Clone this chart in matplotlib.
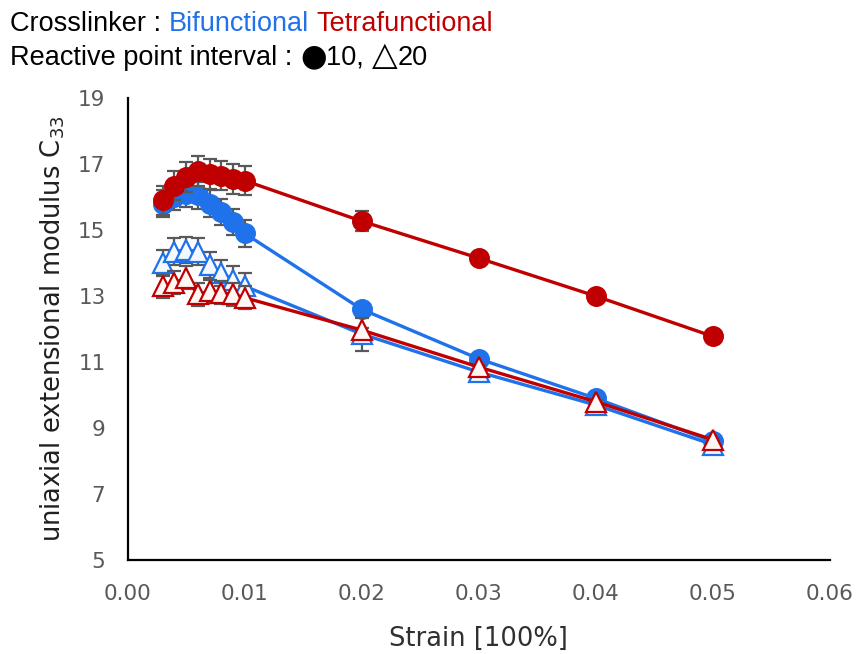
import matplotlib
matplotlib.use('Agg')
import matplotlib.pyplot as plt

plt.rcParams['font.family'] = ['Liberation Sans', 'DejaVu Sans']

BLUE = '#1F72EA'
RED = '#C00000'
ERR_COLOR = '#595959'
TICK_COLOR = '#595959'

# strain values
strain = [0.003, 0.004, 0.005, 0.006, 0.007, 0.008, 0.009, 0.010, 0.02, 0.03, 0.04, 0.05]

# bifunctional, interval 10 (circles)
bi10 = [15.8, 16.0, 16.1, 16.05, 15.8, 15.55, 15.25, 14.9, 12.6, 11.1, 9.9, 8.6]
bi10_err = [0.4, 0.4, 0.4, 0.4, 0.4, 0.4, 0.4, 0.4, 0.2, 0.1, 0.05, 0.05]
# tetrafunctional, interval 10 (circles)
tetra10 = [15.9, 16.35, 16.6, 16.8, 16.7, 16.65, 16.55, 16.5, 15.27, 14.15, 13.0, 11.78]
tetra10_err = [0.45, 0.45, 0.45, 0.45, 0.45, 0.45, 0.45, 0.45, 0.3, 0.05, 0.05, 0.05]
# bifunctional, interval 20 (triangles)
bi20 = [14.0, 14.35, 14.4, 14.35, 13.95, 13.7, 13.5, 13.3, 11.85, 10.7, 9.7, 8.5]
bi20_err = [0.4, 0.4, 0.4, 0.4, 0.4, 0.4, 0.4, 0.4, 0.5, 0.2, 0.05, 0.05]
# tetrafunctional, interval 20 (triangles)
tetra20 = [13.3, 13.4, 13.55, 13.05, 13.15, 13.1, 13.05, 12.95, 11.97, 10.85, 9.8, 8.65]
tetra20_err = [0.35, 0.35, 0.35, 0.35, 0.35, 0.35, 0.35, 0.35, 0.05, 0.05, 0.05, 0.05]

fig = plt.figure(figsize=(8.57, 6.54), dpi=100)
ax = fig.add_axes([0.149, 0.1437, 0.819, 0.7063])

series = [
    (bi10, bi10_err, BLUE, 'o', BLUE, 13.5),
    (tetra10, tetra10_err, RED, 'o', RED, 13.5),
    (bi20, bi20_err, BLUE, '^', '#F4F8FF', 14.5),
    (tetra20, tetra20_err, RED, '^', '#FFF6F6', 14.5),
]
for z, (vals, errs, col, mk, face, ms) in enumerate(series):
    ax.errorbar(strain, vals, yerr=errs, fmt='none', ecolor=ERR_COLOR,
                elinewidth=1.6, capsize=5, capthick=1.6, zorder=2 + 2 * z)
    ax.plot(strain, vals, color=col, linewidth=2.4, marker=mk, markersize=ms,
            markerfacecolor=face, markeredgecolor=col, markeredgewidth=1.6,
            zorder=3 + 2 * z)

ax.set_xlim(0, 0.06)
ax.set_ylim(5, 19)
ax.set_xticks([0.00, 0.01, 0.02, 0.03, 0.04, 0.05, 0.06])
ax.set_xticklabels(['0.00', '0.01', '0.02', '0.03', '0.04', '0.05', '0.06'])
ax.set_yticks([5, 7, 9, 11, 13, 15, 17, 19])
ax.tick_params(length=0, labelsize=15.5, labelcolor=TICK_COLOR)
ax.tick_params(axis='x', pad=17)
ax.tick_params(axis='y', pad=16)
for lab in ax.get_xticklabels() + ax.get_yticklabels():
    lab.set_family('DejaVu Sans')
for s in ['top', 'right']:
    ax.spines[s].set_visible(False)
for s in ['left', 'bottom']:
    ax.spines[s].set_linewidth(1.6)
    ax.spines[s].set_color('black')

ax.set_xlabel('Strain [100%]', fontsize=18.5, color='#303030', family='DejaVu Sans', labelpad=16)
ax.set_ylabel('uniaxial extensional modulus C$_{33}$', fontsize=18.5, color='#202020',
              family='DejaVu Sans', labelpad=8)

# header lines with coloured words
renderer = fig.canvas.get_renderer()


def colored_line(parts, x0, y0, size):
    x = x0
    for txt, col, fam, sz in parts:
        t = fig.text(x, y0, txt, color=col, fontsize=sz or size, ha='left',
                     va='baseline', transform=None, family=fam)
        bb = t.get_window_extent(renderer=renderer)
        x = bb.x1


H = 654
LS = ['Liberation Sans', 'DejaVu Sans']
colored_line([('Crosslinker : ', 'black', LS, None), ('Bifunctional', BLUE, LS, None),
              (' ', 'black', LS, None), ('Tetrafunctional', RED, LS, None)],
             10, H - 31, 19.5)
colored_line([('Reactive point interval : ', 'black', LS, None),
              ('\u25cf', 'black', ['DejaVu Sans'], 22),
              ('10, ', 'black', LS, None),
              ('\u25b3', 'black', ['DejaVu Sans'], 24),
              ('20', 'black', LS, None)],
             10, H - 65, 19.5)

fig.savefig('out.png', dpi=100)
